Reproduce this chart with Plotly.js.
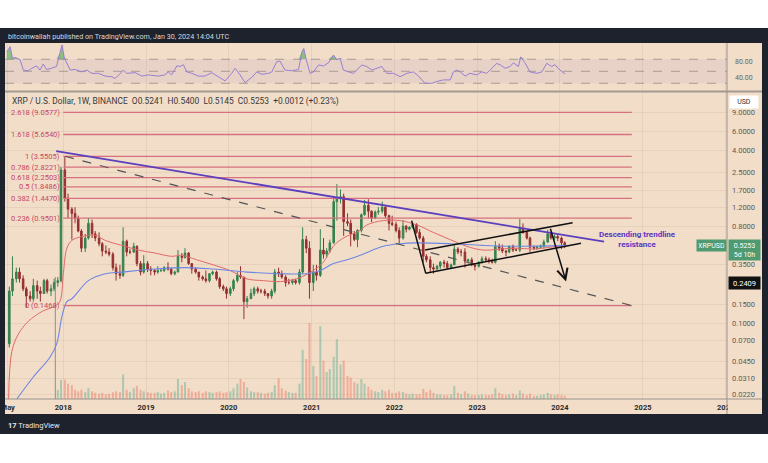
<!DOCTYPE html>
<html><head><meta charset="utf-8">
<script src="https://cdn.plot.ly/plotly-3.0.1.min.js"></script>
<style>html,body{margin:0;padding:0;background:#fff}#c{width:768px;height:463px}</style>
</head><body><div id="c"></div>
<script>
// ---------- DATA (semi-monthly candles, May 2017 - Jan 2024) ----------
const candleOpen = [
 0.065,0.20,0.26,0.30,0.26,0.21,0.18,0.17,0.225,0.20,0.19,0.25,0.20,0.21,0.24,0.25,
 2.65,1.45,1.15,1.05,0.95,0.72,0.50,0.62,0.85,0.68,0.62,0.55,0.47,0.46,0.44,0.33,0.29,0.28,0.58,0.46,0.46,0.52,0.36,0.30,
 0.36,0.32,0.31,0.30,0.31,0.31,0.33,0.32,0.29,0.30,0.42,0.41,0.45,0.36,0.32,0.30,0.27,0.26,0.25,0.29,0.30,0.26,0.22,0.21,
 0.19,0.21,0.25,0.28,0.27,0.16,0.17,0.19,0.21,0.20,0.20,0.19,0.18,0.20,0.30,0.29,0.27,0.24,0.24,0.25,0.24,0.30,0.60,0.50,
 0.24,0.30,0.28,0.48,0.44,0.47,0.56,1.35,1.45,1.50,0.88,0.85,0.68,0.60,0.73,1.02,1.25,1.10,0.95,1.08,1.10,1.20,1.00,0.85,
 0.83,0.73,0.62,0.80,0.75,0.78,0.83,0.70,0.62,0.42,0.39,0.33,0.32,0.34,0.37,0.36,0.33,0.35,0.49,0.46,0.46,0.38,0.39,0.35,
 0.34,0.37,0.40,0.39,0.38,0.37,0.52,0.50,0.47,0.46,0.52,0.48,0.48,0.76,0.70,0.62,0.51,0.50,0.51,0.52,0.57,0.68,0.62,0.64,
 0.62,0.56];
const candleHigh = [
 0.22,0.42,0.33,0.33,0.28,0.22,0.20,0.26,0.25,0.22,0.26,0.26,0.23,0.26,0.27,2.85,
 3.55,1.60,1.20,1.20,1.00,0.75,0.68,0.95,0.92,0.72,0.70,0.57,0.53,0.50,0.46,0.36,0.35,0.78,0.60,0.49,0.56,0.53,0.38,0.43,
 0.38,0.34,0.32,0.34,0.32,0.34,0.37,0.33,0.31,0.48,0.45,0.50,0.46,0.36,0.33,0.30,0.28,0.31,0.29,0.31,0.31,0.27,0.23,0.22,
 0.22,0.26,0.30,0.34,0.27,0.18,0.21,0.22,0.22,0.21,0.21,0.19,0.21,0.32,0.33,0.31,0.28,0.26,0.26,0.26,0.32,0.78,0.65,0.58,
 0.35,0.35,0.75,0.62,0.50,0.60,1.50,1.96,1.75,1.60,1.05,0.92,0.72,0.75,1.05,1.40,1.42,1.12,1.12,1.20,1.35,1.22,1.02,1.00,
 0.88,0.78,0.91,0.82,0.80,0.86,0.85,0.75,0.65,0.44,0.42,0.36,0.35,0.38,0.39,0.38,0.36,0.55,0.51,0.49,0.50,0.40,0.41,0.36,
 0.38,0.42,0.42,0.41,0.40,0.58,0.55,0.54,0.48,0.53,0.54,0.50,0.93,0.85,0.72,0.64,0.53,0.53,0.54,0.60,0.74,0.70,0.67,0.67,
 0.64,0.58];
const candleLow = [
 0.06,0.18,0.24,0.24,0.20,0.14,0.16,0.16,0.17,0.16,0.19,0.19,0.18,0.20,0.22,0.24,
 1.35,0.95,0.60,0.85,0.70,0.46,0.46,0.60,0.62,0.58,0.52,0.42,0.44,0.42,0.31,0.25,0.26,0.27,0.42,0.44,0.45,0.34,0.28,0.29,
 0.30,0.28,0.28,0.29,0.30,0.30,0.31,0.28,0.28,0.30,0.37,0.40,0.35,0.29,0.29,0.25,0.25,0.24,0.24,0.28,0.25,0.21,0.20,0.17,
 0.18,0.20,0.24,0.26,0.11,0.14,0.17,0.18,0.19,0.19,0.18,0.17,0.17,0.19,0.27,0.26,0.22,0.23,0.23,0.23,0.23,0.29,0.45,0.17,
 0.20,0.25,0.27,0.40,0.41,0.45,0.55,0.90,1.30,0.65,0.80,0.52,0.58,0.51,0.70,1.00,0.95,0.87,0.93,1.02,1.05,0.95,0.73,0.80,
 0.70,0.55,0.60,0.70,0.73,0.76,0.68,0.60,0.37,0.37,0.30,0.29,0.31,0.32,0.33,0.32,0.32,0.35,0.44,0.42,0.33,0.36,0.34,0.31,
 0.33,0.36,0.38,0.36,0.36,0.36,0.47,0.45,0.42,0.45,0.46,0.47,0.46,0.68,0.60,0.46,0.48,0.48,0.49,0.50,0.56,0.60,0.59,0.58,
 0.49,0.50];
const candleClose = [
 0.20,0.26,0.30,0.26,0.21,0.18,0.17,0.225,0.20,0.19,0.25,0.20,0.21,0.24,0.25,2.65,
 1.45,1.15,1.05,0.95,0.72,0.50,0.62,0.85,0.68,0.62,0.55,0.47,0.46,0.44,0.33,0.29,0.28,0.58,0.46,0.46,0.52,0.36,0.30,0.36,
 0.32,0.31,0.30,0.31,0.31,0.33,0.32,0.29,0.30,0.42,0.41,0.45,0.36,0.32,0.30,0.27,0.26,0.25,0.29,0.30,0.26,0.22,0.21,0.19,
 0.21,0.25,0.28,0.27,0.16,0.17,0.19,0.21,0.20,0.20,0.19,0.18,0.20,0.30,0.29,0.27,0.24,0.24,0.25,0.24,0.30,0.60,0.50,0.24,
 0.30,0.28,0.48,0.44,0.47,0.56,1.35,1.45,1.50,0.88,0.85,0.68,0.60,0.73,1.02,1.25,1.10,0.95,1.08,1.10,1.20,1.00,0.85,0.83,
 0.73,0.62,0.80,0.75,0.78,0.83,0.70,0.62,0.42,0.39,0.33,0.32,0.34,0.37,0.36,0.33,0.35,0.49,0.46,0.46,0.38,0.39,0.35,0.34,
 0.37,0.40,0.39,0.38,0.37,0.52,0.50,0.47,0.46,0.52,0.48,0.48,0.76,0.70,0.62,0.51,0.50,0.51,0.52,0.57,0.68,0.62,0.64,0.62,
 0.56,0.5253];
const volume = [
 0,0,0,0,0,0,0,0,0,0,0,0,0,0,12,25,
 25,20,18,12,10,12,9,14,10,8,7,8,6,7,9,10,9,32,12,9,14,17,12,10,
 9,8,8,9,7,8,11,9,10,26,18,22,14,10,9,10,8,10,9,8,9,10,8,9,
 10,14,20,26,22,15,10,9,9,8,7,8,9,18,27,14,11,9,8,8,20,64,52,99,
 43,30,95,50,35,39,55,78,45,50,30,28,22,20,26,20,16,12,10,9,12,10,12,8,
 8,10,9,7,6,7,6,6,13,9,12,8,6,6,5,5,6,17,8,6,10,7,5,5,
 5,6,5,5,6,14,8,6,5,6,7,5,11,7,5,7,4,4,5,6,8,6,5,6,
 5,4];

// moving averages (decimal year, price)
const redMaYear = [2017.34,2017.38,2017.46,2017.58,2017.75,2017.90,2017.96,2018.004,2018.045,2018.105,2018.226,2018.386,2018.507,2018.709,2018.909,2019.111,2019.313,2019.42,2019.615,2019.815,2020.017,2020.219,2020.419,2020.621,2020.822,2020.92,2021.019,2021.14,2021.261,2021.382,2021.587,2021.668,2021.865,2022.07,2022.272,2022.469,2022.674,2022.876,2023.072,2023.278,2023.479,2023.676,2023.882,2024.083];
const redMaVal  = [0.02,0.055,0.08,0.105,0.13,0.145,0.16,0.30,0.50,0.59,0.64,0.66,0.59,0.53,0.48,0.45,0.42,0.43,0.39,0.35,0.31,0.26,0.25,0.245,0.26,0.28,0.31,0.37,0.52,0.62,0.73,0.82,0.90,0.90,0.82,0.70,0.60,0.52,0.48,0.49,0.50,0.49,0.51,0.53];
const blueMaYear = [2017.44,2017.64,2017.843,2017.924,2017.984,2018.045,2018.105,2018.306,2018.507,2018.709,2019.111,2019.473,2019.815,2020.219,2020.621,2020.943,2021.104,2021.264,2021.426,2021.587,2021.868,2022.07,2022.272,2022.674,2023.072,2023.479,2024.083];
const blueMaVal  = [0.02,0.032,0.049,0.066,0.116,0.16,0.17,0.25,0.29,0.30,0.32,0.33,0.32,0.30,0.29,0.29,0.31,0.36,0.39,0.43,0.52,0.55,0.56,0.55,0.53,0.52,0.53];

// RSI (decimal year, value)
const rsiYear = [2017.32,2017.36,2017.388,2017.42,2017.48,2017.52,2017.58,2017.62,2017.68,2017.72,2017.76,2017.80,2017.86,2017.92,2017.96,2017.985,2018.015,2018.045,2018.085,2018.145,2018.225,2018.286,2018.347,2018.427,2018.507,2018.588,2018.628,2018.709,2018.728,2018.769,2018.87,2018.95,2019.03,2019.15,2019.23,2019.27,2019.31,2019.373,2019.413,2019.453,2019.494,2019.554,2019.634,2019.715,2019.796,2019.876,2019.957,2020.037,2020.077,2020.138,2020.198,2020.279,2020.339,2020.40,2020.48,2020.52,2020.58,2020.62,2020.68,2020.762,2020.842,2020.883,2020.905,2020.935,2020.983,2021.023,2021.083,2021.144,2021.204,2021.264,2021.305,2021.345,2021.385,2021.446,2021.506,2021.607,2021.668,2021.728,2021.789,2021.849,2021.909,2021.99,2022.07,2022.151,2022.231,2022.291,2022.372,2022.453,2022.513,2022.593,2022.674,2022.714,2022.755,2022.795,2022.855,2022.915,2022.996,2023.057,2023.117,2023.238,2023.278,2023.338,2023.399,2023.439,2023.499,2023.528,2023.58,2023.64,2023.721,2023.781,2023.842,2023.902,2023.942,2024.002,2024.063];
const rsiVal  = [82.7,91,71.7,73,69,52,51,55,59,52,62,53,55,58,80,94,72,63,52,53,49,52,46.6,46.6,42,41,38,49,52,46.6,47.7,42,44,42,44,49,44,59,58,61,49,46.6,42,42,47.7,41,34,46.6,55,44,31,40,49,45,46.6,49,66,67,52,51,53,82.7,88,69,46.6,49,60.5,59,64,77,69,71.7,52,49,46.6,60.5,58,52,55,58,46.6,46.6,41,46.6,49,42,30,30,33,35.6,35.6,49,52,49,42,46.6,44,49,46.6,63,61,55,58,64,58,74,64,49,46.6,49,63.3,58,61,52,45.5];

// Fibonacci retracement levels
const fibRatio = ['2.618','1.618','1','0.786','0.618','0.5','0.382','0.236','0'];
const fibPrice = [9.0577,5.6540,3.5505,2.8221,2.2503,1.8486,1.4470,0.9501,0.1468];
const fibSpan = ['2018-01-01','2024-11-13'];

// drawings (date, price)
const trendResistX = ['2017-12-01','2024-07-14'], trendResistY = [3.97,0.574];
const fibDiagX = ['2018-01-09','2024-11-13'], fibDiagY = [3.5505,0.1468];
const dropLegX = ['2022-03-18','2022-05-19'], dropLegY = [0.898,0.292];
const chanLowX = ['2022-05-19','2024-04-03'], chanLowY = [0.292,0.555];
const chanUpX  = ['2022-05-16','2024-02-26'], chanUpY  = [0.481,0.861];
const arrowFromX = '2023-11-18', arrowFromY = 0.78, arrowToX = '2024-01-28', arrowToY = 0.245;
const supportLevel = 0.2409, lastPrice = 0.5253;
const markerLineX = ['2017-11-27','2017-11-27'], markerLineY = [0.27,0.015];

// axis ticks
const yearTickVals = ['2017-05-01','2018-01-01','2019-01-01','2020-01-01','2021-01-01','2022-01-01','2023-01-01','2024-01-01','2025-01-01','2026-01-01'];
const yearTickText = ['May','2018','2019','2020','2021','2022','2023','2024','2025','2026'];
const priceTicks = [0.022,0.031,0.045,0.07,0.1,0.15,0.35,0.8,1.2,1.7,2.5,4,6,9];

// ---------- helpers ----------
function yd(v){const y=Math.floor(v);const a=Date.UTC(y,0,1),b=Date.UTC(y+1,0,1);return new Date(a+(v-y)*(b-a)).toISOString().slice(0,10);}
const candleDates=[];
for(let y=2017;y<=2024;y++){for(let m=0;m<12;m++){
  if(y===2017&&m<4)continue; if(y===2024&&m>0)break;
  for(const d of [8,22]) candleDates.push(new Date(Date.UTC(y,m,d)).toISOString().slice(0,10));
}}
const px=x=>x/768, py=y=>1-y/463;
const L10=Math.log10;
const GREEN='#35834f', RED='#952f2f';
const BEIGE='#f1ddc8', DARK='#1e222d';

const traces=[];
traces.push({type:'bar',x:candleDates,y:volume,xaxis:'x',yaxis:'y3',width:9*86400000,
  marker:{color:candleClose.map((c,i)=>c>=candleOpen[i]?'rgba(80,170,140,0.42)':'rgba(235,110,90,0.42)'),line:{width:0}},hoverinfo:'skip'});
const rsiX=rsiYear.map(yd);
traces.push({type:'scatter',mode:'lines',x:rsiX,y:rsiVal.map(()=>70),xaxis:'x',yaxis:'y2',line:{width:0},hoverinfo:'skip'});
traces.push({type:'scatter',mode:'lines',x:rsiX,y:rsiVal.map(v=>Math.max(v,70)),xaxis:'x',yaxis:'y2',line:{width:0},fill:'tonexty',fillcolor:'rgba(60,160,80,0.55)',hoverinfo:'skip'});
traces.push({type:'scatter',mode:'lines',x:rsiX,y:rsiVal,xaxis:'x',yaxis:'y2',line:{color:'#9a7fd1',width:1}});
traces.push({type:'scatter',mode:'lines',x:redMaYear.map(yd),y:redMaVal,line:{color:'#e26a6a',width:1,shape:'spline'}});
traces.push({type:'scatter',mode:'lines',x:blueMaYear.map(yd),y:blueMaVal,line:{color:'#6f86e3',width:1.1,shape:'spline'}});
traces.push({type:'candlestick',x:candleDates,open:candleOpen,high:candleHigh,low:candleLow,close:candleClose,
  increasing:{line:{color:GREEN,width:1},fillcolor:GREEN},decreasing:{line:{color:RED,width:1},fillcolor:RED},whiskerwidth:0});
fibPrice.forEach(p=>traces.push({type:'scatter',mode:'lines',x:fibSpan,y:[p,p],line:{color:'#d8707f',width:1.3}}));
traces.push({type:'scatter',mode:'lines',x:markerLineX,y:markerLineY,line:{color:'#8d8d8d',width:1}});
traces.push({type:'scatter',mode:'lines',x:fibDiagX,y:fibDiagY,line:{color:'#555',width:1.2,dash:'dash'}});
traces.push({type:'scatter',mode:'lines',x:trendResistX,y:trendResistY,line:{color:'#5b3fbf',width:1.8}});
[[dropLegX,dropLegY],[chanLowX,chanLowY],[chanUpX,chanUpY]].forEach(([x,y])=>traces.push({type:'scatter',mode:'lines',x:x,y:y,line:{color:'#111',width:1.5}}));

const rectP=(x0,x1,y0,y1,c,layer)=>({type:'rect',xref:'paper',yref:'paper',x0:px(x0),x1:px(x1),y0:py(y1),y1:py(y0),fillcolor:c,opacity:1,line:{width:0},layer:layer||'below'});
const shapes=[
 rectP(0,768,0,28,'#ffffff'),
 rectP(0,768,434,463,'#ffffff'),
 rectP(0,768,28,43,DARK),
 rectP(0,768,414,434,DARK),
 rectP(0,5,43,414,DARK,'above'),
 rectP(762,768,43,414,DARK,'above'),
 rectP(728,762,400,413.5,BEIGE,'above'),
 {type:'rect',xref:'paper',yref:'y2',x0:px(5),x1:px(727),y0:30,y1:70,fillcolor:'rgba(126,87,194,0.08)',line:{width:0},layer:'below'},
 {type:'line',xref:'paper',yref:'y2',x0:px(5),x1:px(727),y0:70,y1:70,line:{color:'#a89c94',width:1,dash:'dash'},layer:'below'},
 {type:'line',xref:'paper',yref:'y2',x0:px(5),x1:px(727),y0:50,y1:50,line:{color:'#a89c94',width:1,dash:'dash'},layer:'below'},
 {type:'line',xref:'paper',yref:'y2',x0:px(5),x1:px(727),y0:30,y1:30,line:{color:'#a89c94',width:1,dash:'dash'},layer:'below'},
 {type:'line',xref:'paper',yref:'y',x0:px(5),x1:px(727),y0:L10(lastPrice),y1:L10(lastPrice),line:{color:'rgba(90,150,110,0.5)',width:1,dash:'dot'},layer:'below'},
 {type:'line',xref:'paper',yref:'y',x0:px(5),x1:px(727),y0:L10(supportLevel),y1:L10(supportLevel),line:{color:'#000',width:1.6}},
 {type:'line',xref:'paper',yref:'paper',x0:px(5),x1:px(762),y0:py(91.5),y1:py(91.5),line:{color:'#a39a92',width:2}},
 {type:'line',xref:'paper',yref:'paper',x0:px(727),x1:px(727),y0:py(414),y1:py(43),line:{color:'#9a938c',width:1}},
 {type:'line',xref:'paper',yref:'paper',x0:px(5),x1:px(762),y0:py(399),y1:py(399),line:{color:'#9a938c',width:1}}
];

const fnt=(s,c,w)=>({family:'Roboto, Arial, sans-serif',size:s,color:c,weight:w||'normal'});
const ann=[
 {xref:'paper',yref:'paper',x:px(6),y:py(36.5),xanchor:'left',yanchor:'middle',showarrow:false,text:'bitcoinwallah published on TradingView.com, Jan 30, 2024 14:04 UTC',font:fnt(7.2,'#d5d8df')},
 {xref:'paper',yref:'paper',x:px(10),y:py(101),xanchor:'left',yanchor:'middle',showarrow:false,text:'XRP / U.S. Dollar, 1W, BINANCE  O0.5241  H0.5400  L0.5145  C0.5253  +0.0012 (+0.23%)',font:fnt(8.4,'#3a3a3a')},
 {xref:'paper',yref:'paper',x:px(6),y:py(425),xanchor:'left',yanchor:'middle',showarrow:false,text:'<b>17</b> TradingView',font:fnt(7.5,'#e8e8ec')},
 {xref:'paper',yref:'paper',x:px(744),y:py(62.3),xanchor:'center',yanchor:'middle',showarrow:false,text:'80.00',font:fnt(7,'#666')},
 {xref:'paper',yref:'paper',x:px(744),y:py(77.7),xanchor:'center',yanchor:'middle',showarrow:false,text:'40.00',font:fnt(7,'#666')},
 {xref:'paper',yref:'paper',x:px(744),y:py(102),xanchor:'center',yanchor:'middle',showarrow:false,text:'USD',font:fnt(7,'#333'),bgcolor:'#ffffff',borderpad:2,width:24},
 {xref:'paper',yref:'paper',x:px(744.5),y:py(282.5),xanchor:'center',yanchor:'middle',showarrow:false,text:'0.2409',font:fnt(7.5,'#fff'),bgcolor:'#111',borderpad:1.5,width:28},
 {xref:'paper',yref:'paper',x:px(711),y:py(245.5),xanchor:'center',yanchor:'middle',showarrow:false,text:'XRPUSD',font:fnt(7,'#fff'),bgcolor:'#4f9a70',borderpad:1.5,width:26},
 {xref:'paper',yref:'paper',x:px(744.5),y:py(249.5),xanchor:'center',yanchor:'middle',showarrow:false,text:'0.5253<br>5d 10h',font:fnt(7,'#fff'),bgcolor:'#4f9a70',borderpad:1.5,width:28},
 {xref:'paper',yref:'paper',x:px(637),y:py(239.5),xanchor:'center',yanchor:'middle',showarrow:false,text:'Descending trendline<br>resistance',font:fnt(8,'#5b35c0','bold')},
 {xref:'x',yref:'y',x:arrowToX,y:L10(arrowToY),axref:'x',ayref:'y',ax:arrowFromX,ay:L10(arrowFromY),showarrow:true,arrowhead:5,arrowsize:1.4,arrowwidth:1.5,arrowcolor:'#111',text:''}
];
fibRatio.forEach((r,i)=>ann.push({xref:'x',yref:'y',x:'2017-12-27',y:L10(fibPrice[i]),xanchor:'right',yanchor:'middle',showarrow:false,
  text:r+' ('+fibPrice[i].toFixed(4)+')',font:fnt(7.5,'#c8465f')}));

const layout={
 width:768,height:463,margin:{l:0,r:0,t:0,b:0},paper_bgcolor:BEIGE,plot_bgcolor:BEIGE,showlegend:false,
 font:{family:'Roboto, Arial, sans-serif'},
 xaxis:{type:'date',domain:[px(5),px(727)],range:['2017-04-19','2026-01-07'],anchor:'y',rangeslider:{visible:false},
   tickmode:'array',tickvals:yearTickVals,ticktext:yearTickText,tickfont:fnt(7.5,'#2b2b2b','bold'),ticks:'',ticklabelstandoff:2,
   showgrid:true,gridcolor:'rgba(140,110,80,0.10)',gridwidth:1,zeroline:false,showline:false,fixedrange:true},
 yaxis:{type:'log',domain:[1-399/463,1-92/463],range:[L10(0.02),L10(14)],side:'right',anchor:'x',
   tickmode:'array',tickvals:priceTicks,ticktext:priceTicks.map(v=>v.toFixed(4)),tickfont:fnt(7.5,'#5a5a5a'),ticks:'',ticklabelstandoff:4,
   showgrid:true,gridcolor:'rgba(140,110,80,0.10)',zeroline:false,showline:false,fixedrange:true},
 yaxis2:{domain:[1-90/463,1-44/463],range:[18.8,95.5],anchor:'x',side:'right',showgrid:false,showticklabels:false,zeroline:false,fixedrange:true},
 yaxis3:{overlaying:'y',range:[0,400],visible:false,anchor:'x',fixedrange:true},
 shapes:shapes,annotations:ann
};
Plotly.newPlot('c',traces,layout,{staticPlot:true,displayModeBar:false});
</script></body></html>
